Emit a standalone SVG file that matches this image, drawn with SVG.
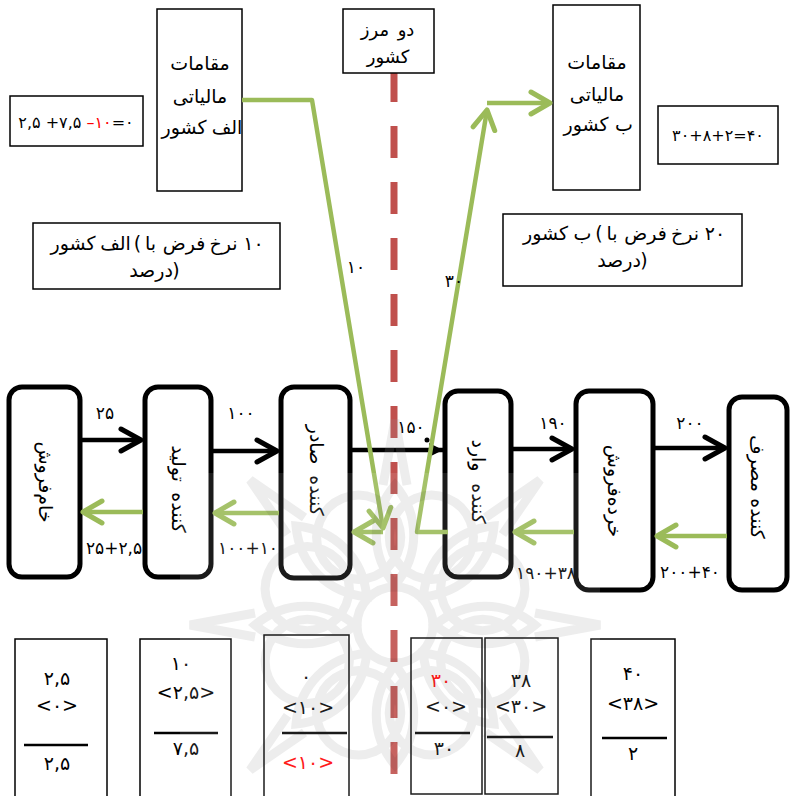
<svg xmlns="http://www.w3.org/2000/svg" width="791" height="796" viewBox="0 0 791 796">
  <style>
    .fa { font-family: "DejaVu Sans", "Noto Sans", sans-serif; fill: #000; text-anchor: middle; }
    .box { fill: #fff; stroke: #000; stroke-width: 1.5; }
    .node { fill: #fff; stroke: #000; stroke-width: 5; }
    .flow { stroke: #000; stroke-width: 4.5; fill: none; }
    .tax { stroke: #9bbb59; stroke-width: 4.5; fill: none; stroke-linejoin: round; }
    .rule { stroke: #000; stroke-width: 2.5; }
    .red { fill: #ff0000; }
  </style>
  <defs>
    <marker id="chev" markerUnits="userSpaceOnUse" markerWidth="30" markerHeight="30" refX="0" refY="0" viewBox="-25 -15 30 30" orient="auto" overflow="visible">
      <path d="M-20,-11 L0,0 L-20,11" fill="none" stroke="#000" stroke-width="5" stroke-linecap="round" stroke-linejoin="round"/>
    </marker>
    <marker id="tri" markerUnits="userSpaceOnUse" markerWidth="20" markerHeight="20" refX="0" refY="0" viewBox="-16 -10 20 20" orient="auto" overflow="visible">
      <path d="M-14,-7 L0,0 L-14,7 Z" fill="#000"/>
    </marker>
    <marker id="gchev" markerUnits="userSpaceOnUse" markerWidth="30" markerHeight="30" refX="0" refY="0" viewBox="-25 -15 30 30" orient="auto" overflow="visible">
      <path d="M-19,-11 L0,0 L-19,11" fill="none" stroke="#9bbb59" stroke-width="5" stroke-linecap="round" stroke-linejoin="round"/>
    </marker>
  </defs>

  <rect width="791" height="796" fill="#fff"/>

  <!-- border between the two countries -->
  <g id="border">
    <line x1="394" y1="70" x2="394" y2="800" stroke="#c0504d" stroke-width="7" stroke-dasharray="32 24"/>
    <rect x="343" y="9" width="91" height="64" class="box"/>
    <g font-size="18">
      <text class="fa" x="375" y="36">مرز</text>
      <text class="fa" x="406" y="36">دو</text>
      <text class="fa" x="388" y="63">کشور</text>
    </g>
  </g>

  <!-- tax authority of country A -->
  <g id="tax-a" font-size="19">
    <rect x="157" y="9" width="85" height="182" class="box"/>
    <text class="fa" x="200" y="70">مقامات</text>
    <text class="fa" x="200" y="103">مالیاتی</text>
    <text class="fa" x="184" y="134">کشور</text>
    <text class="fa" x="227" y="134">الف</text>
  </g>

  <!-- tax authority of country B -->
  <g id="tax-b" font-size="19">
    <rect x="553" y="5" width="87" height="185" class="box"/>
    <text class="fa" x="597" y="69">مقامات</text>
    <text class="fa" x="597" y="101">مالیاتی</text>
    <text class="fa" x="586" y="131">کشور</text>
    <text class="fa" x="624" y="131">ب</text>
  </g>

  <!-- tax totals -->
  <g id="sum-a">
    <rect x="10" y="96" width="133" height="50" class="box"/>
    <text class="fa" x="76" y="128" font-size="16">۲,۵ +۷,۵ <tspan class="red">–۱۰</tspan>=۰</text>
  </g>
  <g id="sum-b">
    <rect x="658" y="106" width="120" height="58" class="box"/>
    <text class="fa" x="718" y="141" font-size="16">۳۰+۸+۲=۴۰</text>
  </g>

  <!-- country rate notes -->
  <g id="note-a" font-size="19">
    <rect x="33" y="223" width="247" height="66" class="box"/>
    <text class="fa" x="73" y="250">کشور</text>
    <text class="fa" x="115.5" y="250">الف</text>
    <text class="fa" x="137.5" y="250">(</text>
    <text class="fa" x="150.5" y="250">با</text>
    <text class="fa" x="184" y="250">فرض</text>
    <text class="fa" x="223.5" y="250">نرخ</text>
    <text class="fa" x="253.5" y="250">۱۰</text>
    <text class="fa" x="151" y="277">درصد</text>
    <text class="fa" x="176" y="277">)</text>
  </g>
  <g id="note-b" font-size="19">
    <rect x="503" y="214" width="239" height="72" class="box"/>
    <text class="fa" x="545.5" y="240">کشور</text>
    <text class="fa" x="582.5" y="240">ب</text>
    <text class="fa" x="599" y="240">(</text>
    <text class="fa" x="612" y="240">با</text>
    <text class="fa" x="645.5" y="240">فرض</text>
    <text class="fa" x="685" y="240">نرخ</text>
    <text class="fa" x="715" y="240">۲۰</text>
    <text class="fa" x="619" y="267">درصد</text>
    <text class="fa" x="644" y="267">)</text>
  </g>

  <!-- supply chain nodes (labels run top to bottom) -->
  <g id="raw-seller" font-size="19">
    <rect x="9" y="387" width="71" height="190" rx="13" class="node"/>
    <text class="fa" transform="translate(39 482) rotate(90)">خام‌فروش</text>
  </g>
  <g id="producer" font-size="19">
    <rect x="145" y="387" width="66" height="190" rx="13" class="node"/>
    <g transform="translate(172 490) rotate(90)">
      <text class="fa" x="-26.5">تولید</text>
      <text class="fa" x="22.5">کننده</text>
    </g>
  </g>
  <g id="exporter" font-size="19">
    <rect x="281" y="387" width="69" height="191" rx="13" class="node"/>
    <g transform="translate(310 471) rotate(90)">
      <text class="fa" x="-26.5">صادر</text>
      <text class="fa" x="24.5">کننده</text>
    </g>
  </g>
  <g id="importer" font-size="19">
    <rect x="445" y="391" width="66" height="186" rx="13" class="node"/>
    <g transform="translate(472 482) rotate(90)">
      <text class="fa" x="-26.5">وارد</text>
      <text class="fa" x="21.5">کننده</text>
    </g>
  </g>
  <g id="retailer" font-size="19">
    <rect x="576" y="391" width="77" height="199" rx="13" class="node"/>
    <text class="fa" transform="translate(608 491) rotate(90)">خرده‌فروش</text>
  </g>
  <g id="consumer" font-size="19">
    <rect x="729" y="397" width="58" height="193" rx="13" class="node"/>
    <g transform="translate(751 490) rotate(90)">
      <text class="fa" x="-26.5">مصرف</text>
      <text class="fa" x="28.5">کننده</text>
    </g>
  </g>

  <!-- connectors -->
  <g id="connectors">
    <!-- goods and price, forward -->
    <line x1="82" y1="440" x2="141" y2="440" class="flow" marker-end="url(#chev)"/>
    <line x1="213" y1="451" x2="277" y2="451" class="flow" marker-end="url(#chev)"/>
    <line x1="352" y1="450" x2="443" y2="450" class="flow" marker-end="url(#tri)"/>
    <line x1="513" y1="449" x2="572" y2="449" class="flow" marker-end="url(#chev)"/>
    <line x1="655" y1="448" x2="725" y2="448" class="flow" marker-end="url(#chev)"/>

    <!-- tax paid back along the chain -->
    <line x1="143" y1="512" x2="83" y2="512" class="tax" marker-end="url(#gchev)"/>
    <line x1="279" y1="513" x2="215" y2="513" class="tax" marker-end="url(#gchev)"/>
    <line x1="574" y1="532" x2="515" y2="532" class="tax" marker-end="url(#gchev)"/>
    <line x1="727" y1="536" x2="657" y2="536" class="tax" marker-end="url(#gchev)"/>

    <!-- refund from country A to the exporter -->
    <path d="M242,100 H312 L383,528" class="tax" marker-end="url(#gchev)"/>
    <path d="M383,532 H354" class="tax" marker-end="url(#gchev)"/>

    <!-- tax paid by the importer to country B -->
    <path d="M448,532 H417 L487,110" class="tax" marker-end="url(#gchev)"/>
    <path d="M487,103 H550" class="tax" marker-end="url(#gchev)"/>

    <!-- connector labels -->
    <g font-size="17">
      <text class="fa" x="105" y="419">۲۵</text>
      <text class="fa" x="241" y="419">۱۰۰</text>
      <text class="fa" x="411" y="433">۱۵۰</text>
      <text class="fa" x="553" y="429">۱۹۰</text>
      <text class="fa" x="690" y="429">۲۰۰</text>

      <text class="fa" x="114" y="554">۲۵+۲,۵</text>
      <text class="fa" x="248" y="554">۱۰۰+۱۰</text>
      <text class="fa" x="546" y="579">۱۹۰+۳۸</text>
      <text class="fa" x="690" y="578">۲۰۰+۴۰</text>

      <text class="fa" x="356" y="273">۱۰</text>
      <text class="fa" x="454" y="287">۳۰</text>
    </g>
    <circle cx="427" cy="440" r="2.5" fill="#000"/>
  </g>

  <!-- per-stage tax accounts -->
  <g id="acc-raw" font-size="19">
    <rect x="15" y="639" width="92" height="170" class="box"/>
    <text class="fa" x="57" y="685">۲,۵</text>
    <text class="fa" x="57" y="712">&lt;۰&gt;</text>
    <line x1="24" y1="745" x2="88" y2="745" class="rule"/>
    <text class="fa" x="57" y="770">۲,۵</text>
  </g>
  <g id="acc-producer" font-size="19">
    <rect x="140" y="639" width="91" height="170" class="box"/>
    <text class="fa" x="181" y="670">۱۰</text>
    <text class="fa" x="186" y="699">&lt;۲,۵&gt;</text>
    <line x1="154" y1="733" x2="218" y2="733" class="rule"/>
    <text class="fa" x="186" y="755">۷,۵</text>
  </g>
  <g id="acc-exporter" font-size="19">
    <rect x="264" y="635" width="85" height="170" class="box"/>
    <text class="fa" x="306" y="683">۰</text>
    <text class="fa" x="308" y="714">&lt;۱۰&gt;</text>
    <line x1="282" y1="733" x2="347" y2="733" class="rule"/>
    <text class="fa red" x="308" y="769">&lt;۱۰&gt;</text>
  </g>
  <g id="acc-importer" font-size="19">
    <rect x="411" y="638" width="71" height="156" class="box"/>
    <text class="fa red" x="441" y="687">۳۰</text>
    <text class="fa" x="446" y="713">&lt;۰&gt;</text>
    <line x1="415" y1="733" x2="470" y2="733" class="rule"/>
    <text class="fa" x="444" y="755">۳۰</text>
  </g>
  <g id="acc-retailer" font-size="19">
    <rect x="485" y="638" width="73" height="156" class="box"/>
    <text class="fa" x="521" y="687">۳۸</text>
    <text class="fa" x="521" y="713">&lt;۳۰&gt;</text>
    <line x1="487" y1="737" x2="553" y2="737" class="rule"/>
    <text class="fa" x="520" y="757">۸</text>
  </g>
  <g id="acc-consumer" font-size="19">
    <rect x="591" y="639" width="84" height="170" class="box"/>
    <text class="fa" x="633" y="680">۴۰</text>
    <text class="fa" x="633" y="710">&lt;۳۸&gt;</text>
    <line x1="602" y1="738" x2="667" y2="738" class="rule"/>
    <text class="fa" x="633" y="760">۲</text>
  </g>

  <!-- faint rosette emblem in the background -->
  <g id="emblem" fill="none" stroke="#9a9a9a" stroke-width="9" opacity="0.18">
    <rect x="180" y="473" width="420" height="323" fill="#fff" stroke="none" opacity="0.6"/>
    <circle cx="395" cy="625" r="38"/>
    <g transform="translate(395 625)">
      <path d="M0,-40 C25,-70 25,-110 0,-140 C-25,-110 -25,-70 0,-40 Z"/>
      <path d="M0,-40 C25,-70 25,-110 0,-140 C-25,-110 -25,-70 0,-40 Z" transform="rotate(45)"/>
      <path d="M0,-40 C25,-70 25,-110 0,-140 C-25,-110 -25,-70 0,-40 Z" transform="rotate(90)"/>
      <path d="M0,-40 C25,-70 25,-110 0,-140 C-25,-110 -25,-70 0,-40 Z" transform="rotate(135)"/>
      <path d="M0,-40 C25,-70 25,-110 0,-140 C-25,-110 -25,-70 0,-40 Z" transform="rotate(180)"/>
      <path d="M0,-40 C25,-70 25,-110 0,-140 C-25,-110 -25,-70 0,-40 Z" transform="rotate(225)"/>
      <path d="M0,-40 C25,-70 25,-110 0,-140 C-25,-110 -25,-70 0,-40 Z" transform="rotate(270)"/>
      <path d="M0,-40 C25,-70 25,-110 0,-140 C-25,-110 -25,-70 0,-40 Z" transform="rotate(315)"/>
      <circle cx="0" cy="-95" r="42" transform="rotate(22.5)"/>
      <circle cx="0" cy="-95" r="42" transform="rotate(67.5)"/>
      <circle cx="0" cy="-95" r="42" transform="rotate(112.5)"/>
      <circle cx="0" cy="-95" r="42" transform="rotate(157.5)"/>
      <circle cx="0" cy="-95" r="42" transform="rotate(202.5)"/>
      <circle cx="0" cy="-95" r="42" transform="rotate(247.5)"/>
      <circle cx="0" cy="-95" r="42" transform="rotate(292.5)"/>
      <circle cx="0" cy="-95" r="42" transform="rotate(337.5)"/>
      <path d="M-12,-140 L0,-205 L12,-140" transform="rotate(0)"/>
      <path d="M-12,-140 L0,-205 L12,-140" transform="rotate(45)"/>
      <path d="M-12,-140 L0,-205 L12,-140" transform="rotate(90)"/>
      <path d="M-12,-140 L0,-205 L12,-140" transform="rotate(135)"/>
      <path d="M-12,-140 L0,-205 L12,-140" transform="rotate(225)"/>
      <path d="M-12,-140 L0,-205 L12,-140" transform="rotate(270)"/>
      <path d="M-12,-140 L0,-205 L12,-140" transform="rotate(315)"/>
    </g>
  </g>
</svg>
